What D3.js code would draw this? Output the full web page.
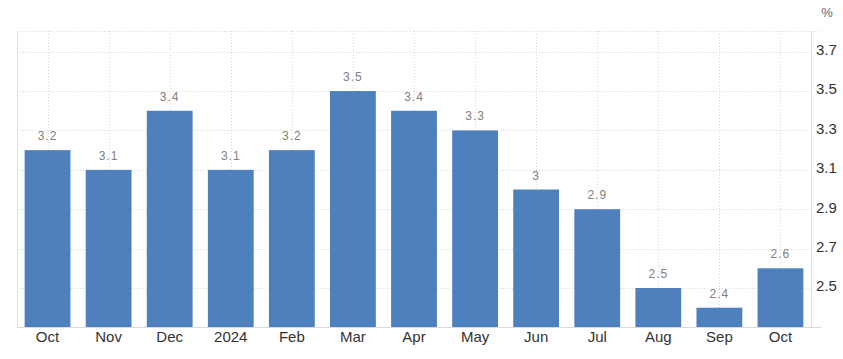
<!DOCTYPE html>
<html><head><meta charset="utf-8">
<script src="https://cdn.jsdelivr.net/npm/d3@7"></script>
<style>body{margin:0;background:#fff}svg{display:block;font-family:"Liberation Sans",Arial,sans-serif}</style>
</head><body><svg id="c" width="843" height="359"></svg>
<script>
const categories = ["Oct","Nov","Dec","2024","Feb","Mar","Apr","May","Jun","Jul","Aug","Sep","Oct"];
const values = [3.2,3.1,3.4,3.1,3.2,3.5,3.4,3.3,3.0,2.9,2.5,2.4,2.6];
const yTicks = [2.5,2.7,2.9,3.1,3.3,3.5,3.7];
const unit = "%";

const svg = d3.select("#c");
const L = 17, R = 811, T = 31, B = 327;
const x = d3.scaleBand().domain(d3.range(categories.length)).range([L, R]).paddingInner(0.25).paddingOuter(0.125);
const y = d3.scaleLinear().domain([2.302, 3.805]).range([B, T]);

// horizontal grid
svg.append("g").selectAll("line").data(yTicks).join("line")
  .attr("x1", L).attr("x2", R).attr("y1", d => Math.round(y(d)) + 0.5).attr("y2", d => Math.round(y(d)) + 0.5)
  .attr("stroke", "#d8d8d8").attr("stroke-dasharray", "1,2");
svg.append("line").attr("x1", L).attr("x2", R + 10).attr("y1", T + 0.5).attr("y2", T + 0.5)
  .attr("stroke", "#d8d8d8").attr("stroke-dasharray", "1,2");
// vertical grid
svg.append("g").selectAll("line").data(d3.range(categories.length)).join("line")
  .attr("x1", d => Math.round(x(d) + x.bandwidth() / 2) + 0.5).attr("x2", d => Math.round(x(d) + x.bandwidth() / 2) + 0.5)
  .attr("y1", T).attr("y2", B)
  .attr("stroke", "#d8d8d8").attr("stroke-dasharray", "1,2");
// frame lines
svg.append("line").attr("x1", L + 0.5).attr("x2", L + 0.5).attr("y1", T).attr("y2", B).attr("stroke", "#e0e0e0");
svg.append("line").attr("x1", R + 0.5).attr("x2", R + 0.5).attr("y1", T).attr("y2", B).attr("stroke", "#e0e0e0");

// bars
svg.append("g").selectAll("rect").data(values).join("rect")
  .attr("x", (d, i) => x(i)).attr("width", x.bandwidth())
  .attr("y", d => y(d)).attr("height", d => B - y(d))
  .attr("fill", "#4d80bc");

// bottom axis line
svg.append("line").attr("x1", L).attr("x2", R + 10).attr("y1", B + 0.5).attr("y2", B + 0.5).attr("stroke", "#d9d9d9");

// value labels
svg.append("g").selectAll("text").data(values).join("text")
  .attr("x", (d, i) => x(i) + x.bandwidth() / 2).attr("y", d => y(d) - 10)
  .attr("text-anchor", "middle").attr("font-size", 12).attr("fill", "#808080")
  .attr("letter-spacing", "1px")
  .text(d => d3.format("")(d));

// x labels
const xAxis = d3.axisBottom(x).tickFormat(i => categories[i]).tickSize(0).tickPadding(0);
const gx = svg.append("g").attr("transform", `translate(0,${B})`).call(xAxis);
gx.select(".domain").remove();
gx.selectAll("text").attr("font-size", 15).attr("fill", "#333").attr("dy", null).attr("y", 15)
  .attr("font-family", '"Liberation Sans",Arial,sans-serif');

// y labels
const yAxis = d3.axisRight(y).tickValues(yTicks).tickFormat(d3.format(".1f")).tickSize(0).tickPadding(0);
const gy = svg.append("g").attr("transform", `translate(${R + 5},-2)`).call(yAxis);
gy.select(".domain").remove();
gy.selectAll("text").attr("font-size", 15).attr("fill", "#333").attr("font-family", '"Liberation Sans",Arial,sans-serif');

svg.append("text").attr("x", 827).attr("y", 17).attr("text-anchor", "middle")
  .attr("font-size", 13).attr("fill", "#666").text(unit);
</script></body></html>
